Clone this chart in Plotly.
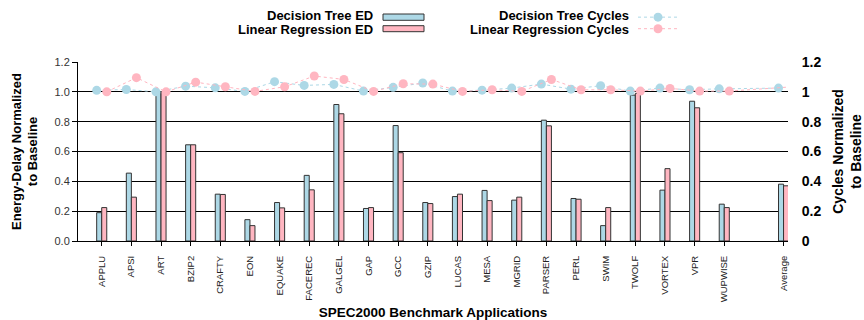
import plotly.graph_objects as go

# SPEC2000 benchmarks (an empty slot separates them from the average)
benchmarks = ["APPLU", "APSI", "ART", "BZIP2", "CRAFTY", "EON", "EQUAKE", "FACEREC",
              "GALGEL", "GAP", "GCC", "GZIP", "LUCAS", "MESA", "MGRID", "PARSER",
              "PERL", "SWIM", "TWOLF", "VORTEX", "VPR", "WUPWISE"]
average_label = "Average"

# Energy-delay normalized to baseline
dt_ed = [0.19, 0.455, 1.0, 0.645, 0.314, 0.143, 0.258, 0.44, 0.915, 0.218, 0.774,
         0.258, 0.298, 0.339, 0.274, 0.81, 0.285, 0.103, 0.978, 0.341, 0.937, 0.247, 0.381]
lr_ed = [0.224, 0.294, 1.0, 0.645, 0.312, 0.103, 0.222, 0.343, 0.853, 0.224, 0.592,
         0.251, 0.314, 0.271, 0.294, 0.772, 0.28, 0.224, 0.99, 0.485, 0.893, 0.224, 0.37]

# Cycles normalized to baseline
dt_cycles = [1.01, 1.016, 1.0, 1.038, 1.027, 1.003, 1.068, 1.043, 1.05, 1.005, 1.03,
             1.059, 1.005, 1.011, 1.025, 1.052, 1.018, 1.041, 1.005, 1.025, 1.014, 1.02, 1.025]
lr_cycles = [1.0, 1.095, 1.0, 1.065, 1.034, 1.003, 1.034, 1.106, 1.083, 1.003, 1.054,
             1.052, 1.003, 1.014, 1.003, 1.083, 1.014, 1.014, 1.005, 1.023, 1.005, 1.005, 1.032]

y_ticks = [0, 0.2, 0.4, 0.6, 0.8, 1.0, 1.2]
y2_ticktext = ["0", "0.2", "0.4", "0.6", "0.8", "1", "1.2"]

labels = benchmarks + [average_label]
xpos = list(range(len(benchmarks))) + [len(benchmarks) + 1]

BLUE = "#add8e6"
PINK = "#ffb6c1"
EDGE = "#333333"
FONT = "Liberation Sans, Arial, sans-serif"
BAR_W = 0.17

W, H = 864, 320
ML, MR, MT, MB = 78, 76, 62, 79
PW, PH = W - ML - MR, H - MT - MB


def px_x(px):
    return (px - ML) / PW


def px_y(py):
    return (H - MB - py) / PH


fig = go.Figure()

fig.add_trace(go.Bar(x=xpos, y=dt_ed, width=BAR_W, offset=-BAR_W, name="Decision Tree ED",
                     marker=dict(color=BLUE, line=dict(color=EDGE, width=1)), showlegend=False))
fig.add_trace(go.Bar(x=xpos, y=lr_ed, width=BAR_W, offset=0, name="Linear Regression ED",
                     marker=dict(color=PINK, line=dict(color=EDGE, width=1)), showlegend=False))

fig.add_trace(go.Scatter(x=[p - BAR_W for p in xpos], y=dt_cycles, yaxis="y2",
                         mode="lines+markers", name="Decision Tree Cycles", cliponaxis=False,
                         line=dict(color=BLUE, width=1, dash="dot"),
                         marker=dict(color=BLUE, size=9), showlegend=False))
fig.add_trace(go.Scatter(x=[p + BAR_W for p in xpos], y=lr_cycles, yaxis="y2",
                         mode="lines+markers", name="Linear Regression Cycles", cliponaxis=False,
                         line=dict(color=PINK, width=1, dash="dot"),
                         marker=dict(color=PINK, size=9), showlegend=False))

# Hand-built legend: bold label followed by its swatch
shapes = []
annotations = []
rows = [(15.5, 14, 20.3), (30, 25.7, 31.7)]
ed_items = [("Decision Tree ED", BLUE), ("Linear Regression ED", PINK)]
cyc_items = [("Decision Tree Cycles", BLUE), ("Linear Regression Cycles", PINK)]
for (ty, y0, y1), (txt, col) in zip(rows, ed_items):
    annotations.append(dict(xref="paper", yref="paper", x=px_x(375), y=px_y(ty),
                            xanchor="right", yanchor="middle", showarrow=False,
                            text="<b>%s</b>" % txt, font=dict(family=FONT, size=13, color="black")))
    shapes.append(dict(type="rect", xref="paper", yref="paper",
                       x0=px_x(383), x1=px_x(424), y0=px_y(y1), y1=px_y(y0),
                       fillcolor=col, line=dict(color=EDGE, width=1)))
for (ty, y0, y1), (txt, col) in zip(rows, cyc_items):
    cy = (y0 + y1) / 2
    annotations.append(dict(xref="paper", yref="paper", x=px_x(631), y=px_y(ty),
                            xanchor="right", yanchor="middle", showarrow=False,
                            text="<b>%s</b>" % txt, font=dict(family=FONT, size=13, color="black")))
    shapes.append(dict(type="line", xref="paper", yref="paper",
                       x0=px_x(638), x1=px_x(680), y0=px_y(cy), y1=px_y(cy),
                       line=dict(color=col, width=1, dash="dot")))
    shapes.append(dict(type="circle", xref="paper", yref="paper",
                       xsizemode="pixel", ysizemode="pixel",
                       xanchor=px_x(658), yanchor=px_y(cy),
                       x0=-4.5, x1=4.5, y0=-4.5, y1=4.5,
                       fillcolor=col, line=dict(width=0)))

fig.update_layout(
    width=W, height=H,
    margin=dict(l=ML, r=MR, t=MT, b=MB, pad=0, autoexpand=False),
    paper_bgcolor="white", plot_bgcolor="white",
    font=dict(family=FONT, color="black"),
    barmode="overlay",
    shapes=shapes, annotations=annotations,
    xaxis=dict(range=[-0.8, 23.15], tickvals=xpos, ticktext=labels, tickangle=-90,
               tickfont=dict(size=9.5, color="#222222"), ticklabelstandoff=6,
               showline=True, linecolor="black", linewidth=1,
               ticks="outside", ticklen=4, tickcolor="black",
               showgrid=False, zeroline=False, automargin=False,
               title=dict(text="<b>SPEC2000 Benchmark Applications</b>",
                          font=dict(size=13.5, color="black"), standoff=8)),
    yaxis=dict(range=[0, 1.2], tickvals=y_ticks, tickformat=".1f",
               tickfont=dict(size=11, color="#333333"),
               showline=True, linecolor="black", linewidth=1,
               ticks="outside", ticklen=5, tickcolor="black", automargin=False,
               showgrid=True, gridcolor="black", gridwidth=1, zeroline=False,
               title=dict(text="<b>Energy-Delay Normalized<br>to Baseline</b>",
                          font=dict(size=13, color="black"), standoff=13)),
    yaxis2=dict(range=[0, 1.2], overlaying="y", side="right",
                tickvals=y_ticks, ticktext=y2_ticktext,
                tickfont=dict(size=14, color="black", family=FONT, weight="bold"),
                ticks="outside", ticklen=10, tickcolor="rgba(0,0,0,0)", automargin=False,
                showline=False, showgrid=False, zeroline=False,
                title=dict(text="<b>Cycles Normalized<br>to Baseline</b>",
                           font=dict(size=14, color="black"), standoff=22)),
)

fig.write_html("out.html")
